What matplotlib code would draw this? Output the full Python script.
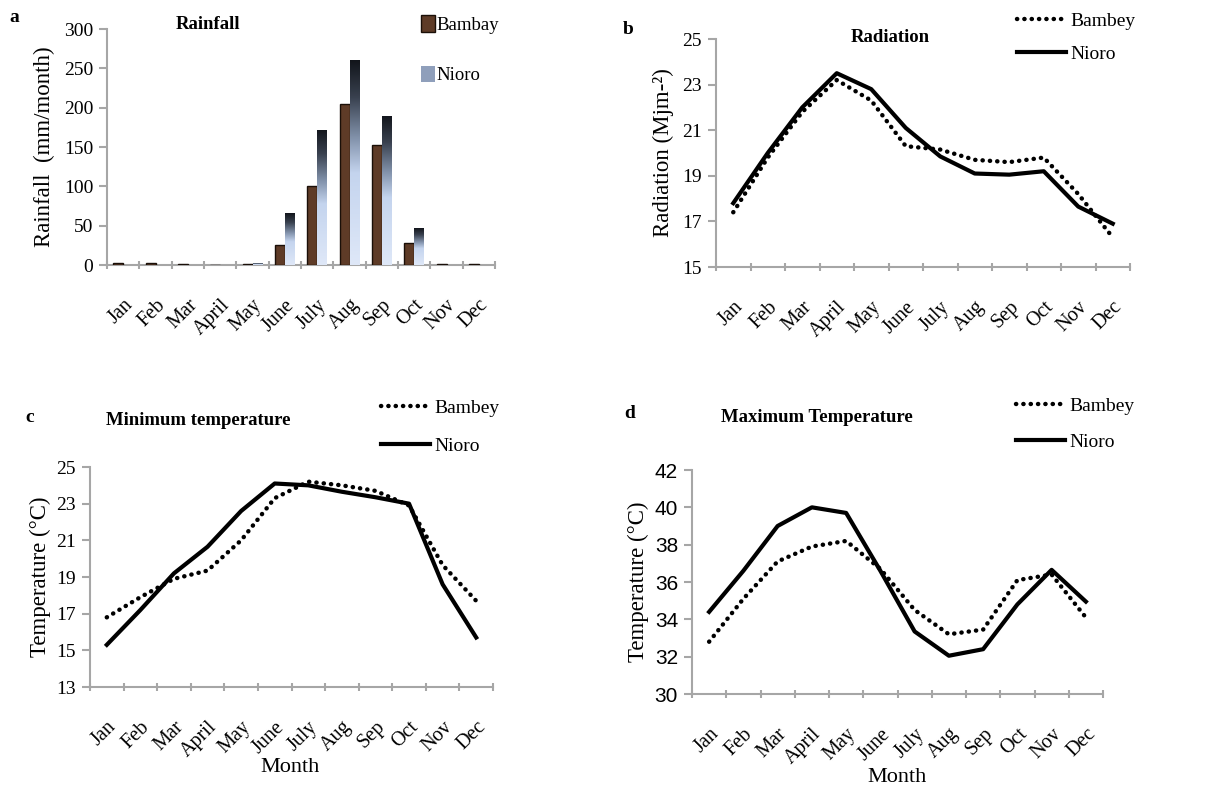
import numpy as np
import matplotlib
matplotlib.use("Agg")
import matplotlib.pyplot as plt
from matplotlib.colors import LinearSegmentedColormap
from matplotlib.patches import Patch
from matplotlib.lines import Line2D

plt.rcParams['font.family'] = ['Liberation Serif', 'DejaVu Serif']

months = ['Jan', 'Feb', 'Mar', 'April', 'May', 'June', 'July', 'Aug', 'Sep', 'Oct', 'Nov', 'Dec']

rain_bambay = [2, 2, 1, 0, 1, 25, 100, 205, 152, 28, 1, 1]
rain_nioro = [0, 0, 0, 0, 2, 66, 172, 260, 190, 47, 0, 0]

rad_bambey = [17.4, 19.8, 21.8, 23.2, 22.3, 20.3, 20.15, 19.7, 19.6, 19.8, 18.2, 16.3]
rad_nioro = [17.8, 20.0, 22.0, 23.5, 22.8, 21.1, 19.85, 19.1, 19.05, 19.2, 17.65, 16.9]

tmin_bambey = [16.8, 17.9, 18.9, 19.35, 21.0, 23.3, 24.2, 24.0, 23.7, 22.9, 19.65, 17.7]
tmin_nioro = [15.3, 17.2, 19.2, 20.65, 22.6, 24.1, 24.0, 23.65, 23.35, 23.0, 18.6, 15.7]

tmax_bambey = [32.8, 35.1, 37.1, 37.9, 38.2, 36.7, 34.5, 33.2, 33.45, 36.1, 36.4, 34.1]
tmax_nioro = [34.4, 36.6, 39.0, 40.0, 39.7, 36.6, 33.35, 32.05, 32.4, 34.8, 36.65, 34.95]

GRAY = '#a6a6a6'
W, H = 1227, 787
fig = plt.figure(figsize=(W / 100, H / 100), dpi=100)


def add_ax(l, r, t, b):
    return fig.add_axes([l / W, 1 - b / H, (r - l) / W, (b - t) / H])


def style(ax, yticks, ylim, ytick_family=None):
    x = np.arange(12)
    ax.set_xlim(-0.5, 11.5)
    ax.set_ylim(*ylim)
    for s in ['top', 'right']:
        ax.spines[s].set_visible(False)
    for s in ['left', 'bottom']:
        ax.spines[s].set_color(GRAY)
        ax.spines[s].set_linewidth(1.5)
    ax.set_xticks(np.arange(-0.5, 12, 1))
    ax.set_xticklabels([])
    ax.set_xticks(x, minor=True)
    ax.set_xticklabels(months, minor=True, rotation=45, ha='right',
                       rotation_mode='anchor', fontsize=14.5)
    ax.tick_params(axis='x', which='major', length=6, width=1.5, color=GRAY, direction='inout')
    ax.tick_params(axis='x', which='minor', length=0, pad=22)
    ax.set_yticks(yticks)
    ax.tick_params(axis='y', length=6, width=1.5, color=GRAY, labelsize=14, pad=4)
    if ytick_family:
        for lab in ax.get_yticklabels():
            lab.set_family(ytick_family)
            lab.set_fontsize(15)


# ---------- a: rainfall ----------
axa = add_ax(107, 495, 29, 265)
x = np.arange(12)
bw = 0.3
bars_b = axa.bar(x - bw / 2, rain_bambay, width=bw, color='#5e3b27',
                 edgecolor='#1a0f08', linewidth=1.0, zorder=3)
bars_n = axa.bar(x + bw / 2, rain_nioro, width=0.28, color='none',
                 edgecolor='none', linewidth=0, zorder=3)
cmap = LinearSegmentedColormap.from_list(
    'nio', [(0.0, '#dfe8f8'), (0.45, '#c4d4ee'), (0.62, '#8292ab'),
            (0.82, '#39414f'), (1.0, '#12151b')])
grad = np.linspace(0, 1, 256).reshape(-1, 1)
for bar in bars_n:
    h = bar.get_height()
    if h <= 0:
        continue
    x0 = bar.get_x()
    im = axa.imshow(grad, cmap=cmap, aspect='auto', origin='lower',
                    extent=(x0, x0 + bar.get_width(), 0, h), zorder=3)
    im.set_clip_path(bar)
style(axa, np.arange(0, 301, 50), (0, 300))
axa.set_ylabel('Rainfall  (mm/month)', fontsize=16.5, labelpad=6)
axa.set_title('Rainfall', fontsize=13.5, fontweight='bold', x=0.26, y=1.0, pad=0)
axa.legend([Patch(facecolor='#5e3b27', edgecolor='#1a0f08'),
            Patch(facecolor='#8f9fbb', edgecolor='none')],
           ['Bambay', 'Nioro'], loc='upper left',
           bbox_to_anchor=(421 / W, 1 - 15 / H), bbox_transform=fig.transFigure,
           frameon=False, fontsize=13.5, handlelength=0.75, handleheight=1.0,
           handletextpad=0.1, labelspacing=1.7, borderpad=0, borderaxespad=0)

# ---------- line panels ----------
dot_kw = dict(color='black', linewidth=3.2, linestyle=(0, (0.05, 1.6)),
              dash_capstyle='round', zorder=3)
sol_kw = dict(color='black', linewidth=3, linestyle='-', zorder=4)


def line_legend(ax, xpx, ypx, spacing):
    ax.legend([Line2D([], [], **dot_kw), Line2D([], [], **sol_kw)],
              ['Bambey', 'Nioro'], loc='upper left',
              bbox_to_anchor=(xpx / W, 1 - ypx / H), bbox_transform=fig.transFigure,
              frameon=False, fontsize=14, handlelength=2.5, handletextpad=0.25,
              labelspacing=spacing, borderpad=0, borderaxespad=0)


# b: radiation
axb = add_ax(716, 1130, 39, 267)
axb.plot(x, rad_bambey, **dot_kw)
axb.plot(x, rad_nioro, **sol_kw)
style(axb, np.arange(15, 26, 2), (15, 25))
axb.set_ylabel('Radiation (Mjm-²)', fontsize=16.5, labelpad=6)
axb.set_title('Radiation', fontsize=13.5, fontweight='bold', x=0.42, y=1.0, pad=-2)
line_legend(axb, 1017, 12, 0.8)

# c: minimum temperature
axc = add_ax(90, 493, 467, 687)
axc.plot(x, tmin_bambey, **dot_kw)
axc.plot(x, tmin_nioro, **sol_kw)
style(axc, np.arange(13, 26, 2), (13, 25))
axc.set_ylabel('Temperature (°C)', fontsize=16.5, labelpad=4)
axc.set_xlabel('Month', fontsize=16)
axc.xaxis.set_label_coords((290 - 90) / 403, (687 - 767) / 220)
axc.xaxis.label.set_va('center')
line_legend(axc, 381, 399, 1.05)

# d: maximum temperature
axd = add_ax(692, 1103, 470, 694)
axd.plot(x, tmax_bambey, **dot_kw)
axd.plot(x, tmax_nioro, **sol_kw)
style(axd, np.arange(30, 43, 2), (30, 42), ytick_family=['Liberation Sans Narrow', 'Liberation Sans'])
axd.set_ylabel('Temperature (°C)', fontsize=16.5, labelpad=4)
axd.set_xlabel('Month', fontsize=16)
axd.xaxis.set_label_coords((897 - 692) / 411, (694 - 777) / 224)
axd.xaxis.label.set_va('center')
line_legend(axd, 1016, 397, 0.95)

# titles and panel letters (figure level)
fig.text(198 / W, 1 - 421 / H, 'Minimum temperature', ha='center', va='center',
         fontsize=13.5, fontweight='bold')
fig.text(817 / W, 1 - 418 / H, 'Maximum Temperature', ha='center', va='center',
         fontsize=13.5, fontweight='bold')
for lab, px, py in [('a', 14, 18), ('b', 628, 30), ('c', 30, 418), ('d', 630, 413)]:
    fig.text(px / W, 1 - py / H, lab, ha='center', va='center', fontsize=14, fontweight='bold')

fig.savefig('out.png', dpi=100, facecolor='white')
